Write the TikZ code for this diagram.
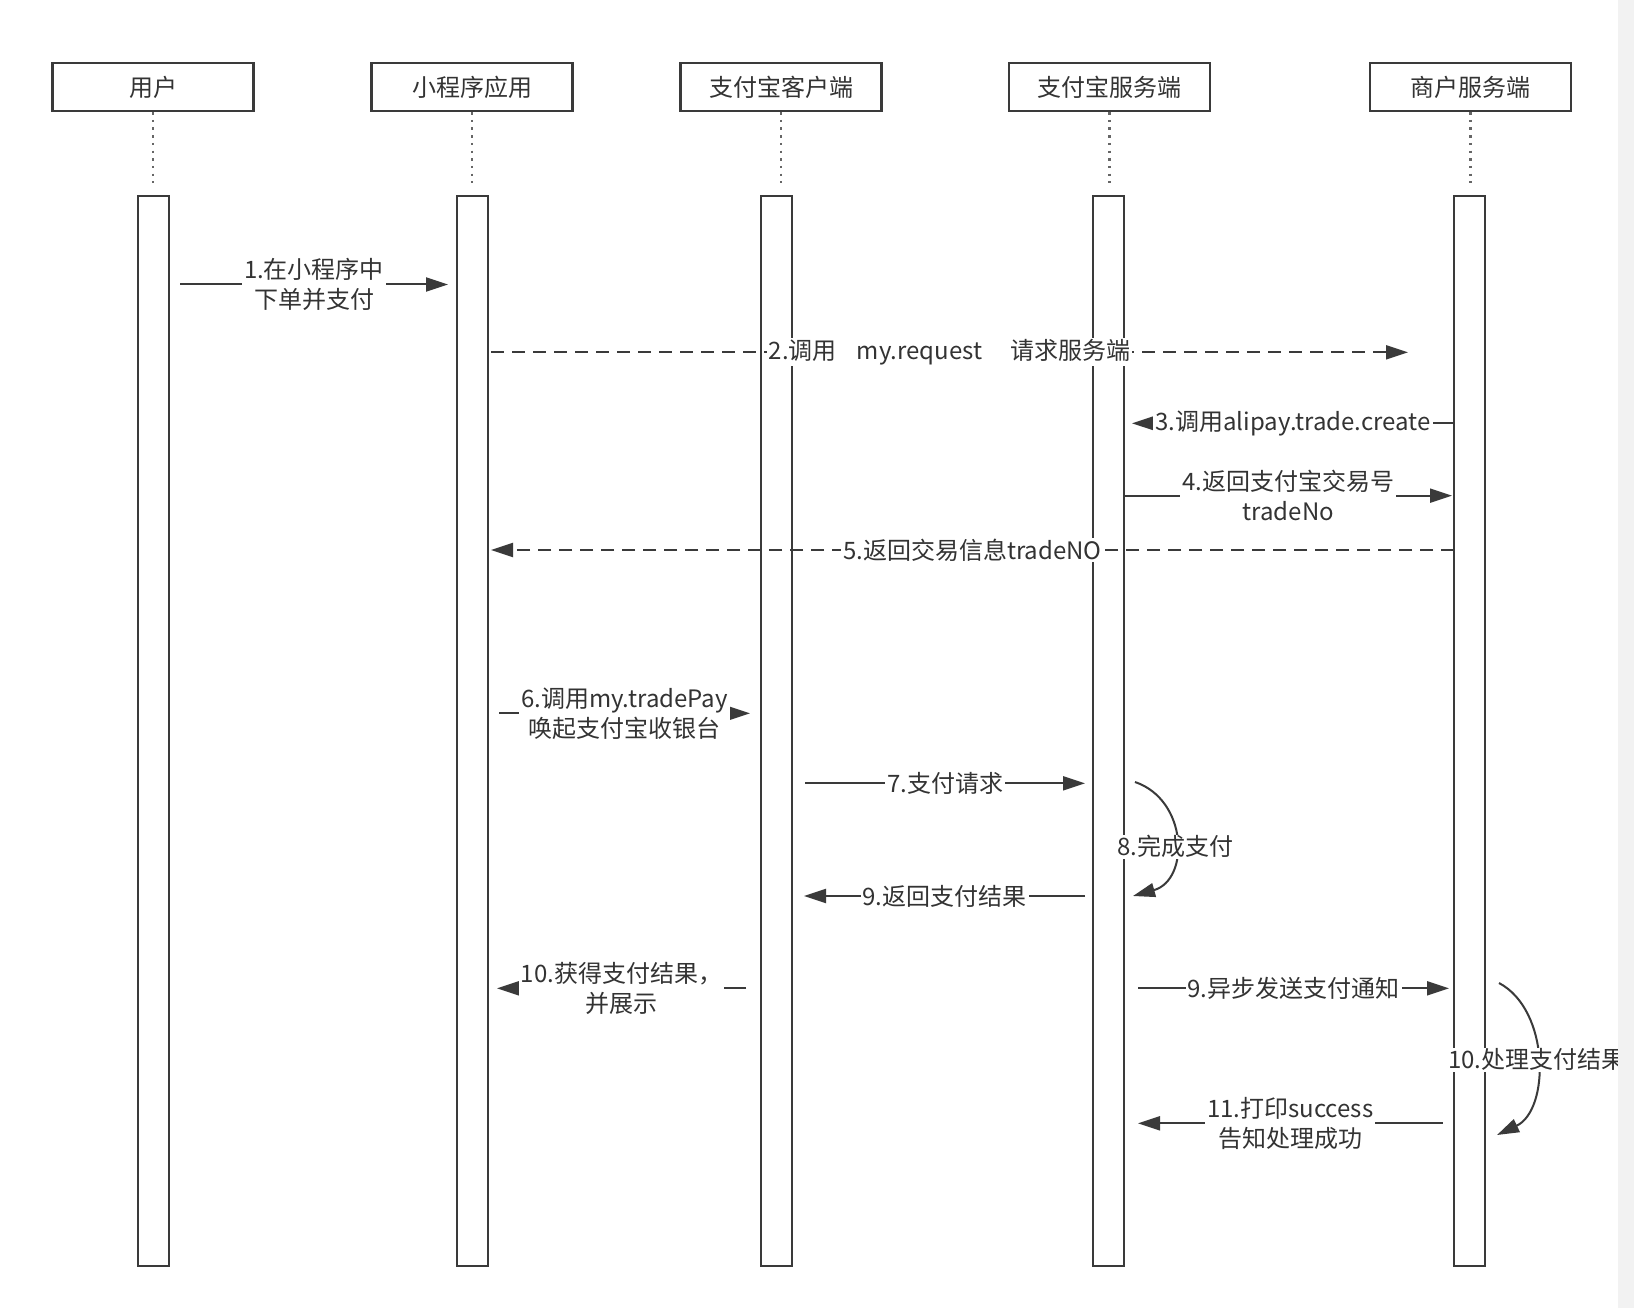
\documentclass[tikz,border=0pt]{standalone}
\usepackage{fontspec}
\setmainfont{Noto Sans CJK SC}
\usetikzlibrary{arrows.meta}
\definecolor{ln}{HTML}{3A3A3A}
\definecolor{tx}{HTML}{333333}
\definecolor{dotc}{HTML}{666666}
\definecolor{strip}{HTML}{F2F2F2}
\begin{document}
\begin{tikzpicture}[x=1pt,y=-1pt,
  hdr/.style={draw=ln, line width=2.2pt, minimum width=201pt, minimum height=48pt, inner sep=0pt, font=\fontsize{24}{28}\selectfont, text=tx},
  actbar/.style={draw=ln, line width=2pt, minimum width=31pt, minimum height=1070pt, inner sep=0pt},
  life/.style={draw=dotc, line width=2.5pt, dash pattern=on 2.5pt off 5.2pt},
  msg/.style={draw=ln, line width=2pt, -{Triangle[length=22pt,width=14pt]}},
  dmsg/.style={msg, dash pattern=on 13pt off 8pt},
  lbl/.style={fill=white, inner xsep=2pt, inner ysep=1pt, text=tx, align=center, font=\fontsize{24}{30}\selectfont},
]
\useasboundingbox (0,0) rectangle (1634,1308);
\fill[white] (0,0) rectangle (1634,1308);

% headers
\node[hdr] (hA) at (153,87) {用户};
\node[hdr] (hB) at (472,87) {小程序应用};
\node[hdr] (hC) at (781,87) {支付宝客户端};
\node[hdr] (hD) at (1109.5,87) {支付宝服务端};
\node[hdr] (hE) at (1470.5,87) {商户服务端};

% lifelines
\foreach \n in {A,B,C,D,E}{
  \draw[life] (h\n.south) -- (h\n.south |- 0,183);
}

% activation bars
\node[actbar] (bA) at (153.5,731) {};
\node[actbar] (bB) at (472.5,731) {};
\node[actbar] (bC) at (776.5,731) {};
\node[actbar] (bD) at (1108.5,731) {};
\node[actbar] (bE) at (1469.5,731) {};

% message end points
\coordinate (m1s) at (180,284.5);   \coordinate (m1e) at (448,284.5);
\coordinate (m2s) at (491,352.3);   \coordinate (m2e) at (1408,352.3);
\coordinate (m3s) at (1454,423.3);  \coordinate (m3e) at (1132,423.3);
\coordinate (m4s) at (1124.5,495.7);\coordinate (m4e) at (1452,495.7);
\coordinate (m5s) at (1454,550);    \coordinate (m5e) at (491,550);
\coordinate (m6s) at (499,713.3);   \coordinate (m6e) at (750,713.3);
\coordinate (m7s) at (805,783.3);   \coordinate (m7e) at (1085,783.3);
\coordinate (a8s) at (1135,782);    \coordinate (a8e) at (1133,896);
\coordinate (m9s) at (1085,896);    \coordinate (m9e) at (804,896);
\coordinate (m10s) at (746,988.3);  \coordinate (m10e) at (497,988.3);
\coordinate (n9s) at (1138,988.3);  \coordinate (n9e) at (1449,988.3);
\coordinate (a10s) at (1499,983);   \coordinate (a10e) at (1497,1135);
\coordinate (m11s) at (1442.5,1123.3); \coordinate (m11e) at (1138,1123.3);

% messages
\draw[msg] (m1s) -- node[lbl]{1.在小程序中\\下单并支付} (m1e);
\draw[dmsg] (m2s) -- node[lbl]{2.调用\hspace{20pt}my.request\hspace{28pt}请求服务端} (m2e);
\draw[msg] (m3s) -- node[lbl]{3.调用alipay.trade.create} (m3e);
\draw[msg] (m4s) -- node[lbl]{4.返回支付宝交易号\\tradeNo} (m4e);
\draw[dmsg] (m5s) -- node[lbl]{5.返回交易信息tradeNO} (m5e);
\draw[msg] (m6s) -- node[lbl]{6.调用my.tradePay\\唤起支付宝收银台} (m6e);
\draw[msg] (m7s) -- node[lbl]{7.支付请求} (m7e);
\draw[msg] (a8s) .. controls (1188,800) and (1190,880) .. node[lbl, yshift=-7pt]{8.完成支付} (a8e);
\draw[msg] (m9s) -- node[lbl]{9.返回支付结果} (m9e);
\draw[msg] (m10s) -- node[lbl]{10.获得支付结果，\\并展示} (m10e);
\draw[msg] (n9s) -- node[lbl]{9.异步发送支付通知} (n9e);
\draw[msg] (a10s) .. controls (1550,1010) and (1550,1110) .. node[lbl, xshift=0pt]{10.处理支付结果} (a10e);
\draw[msg] (m11s) -- node[lbl]{11.打印success\\告知处理成功} (m11e);

% right strip of the screenshot
\fill[strip] (1618,0) rectangle (1634,1308);
\end{tikzpicture}
\end{document}
